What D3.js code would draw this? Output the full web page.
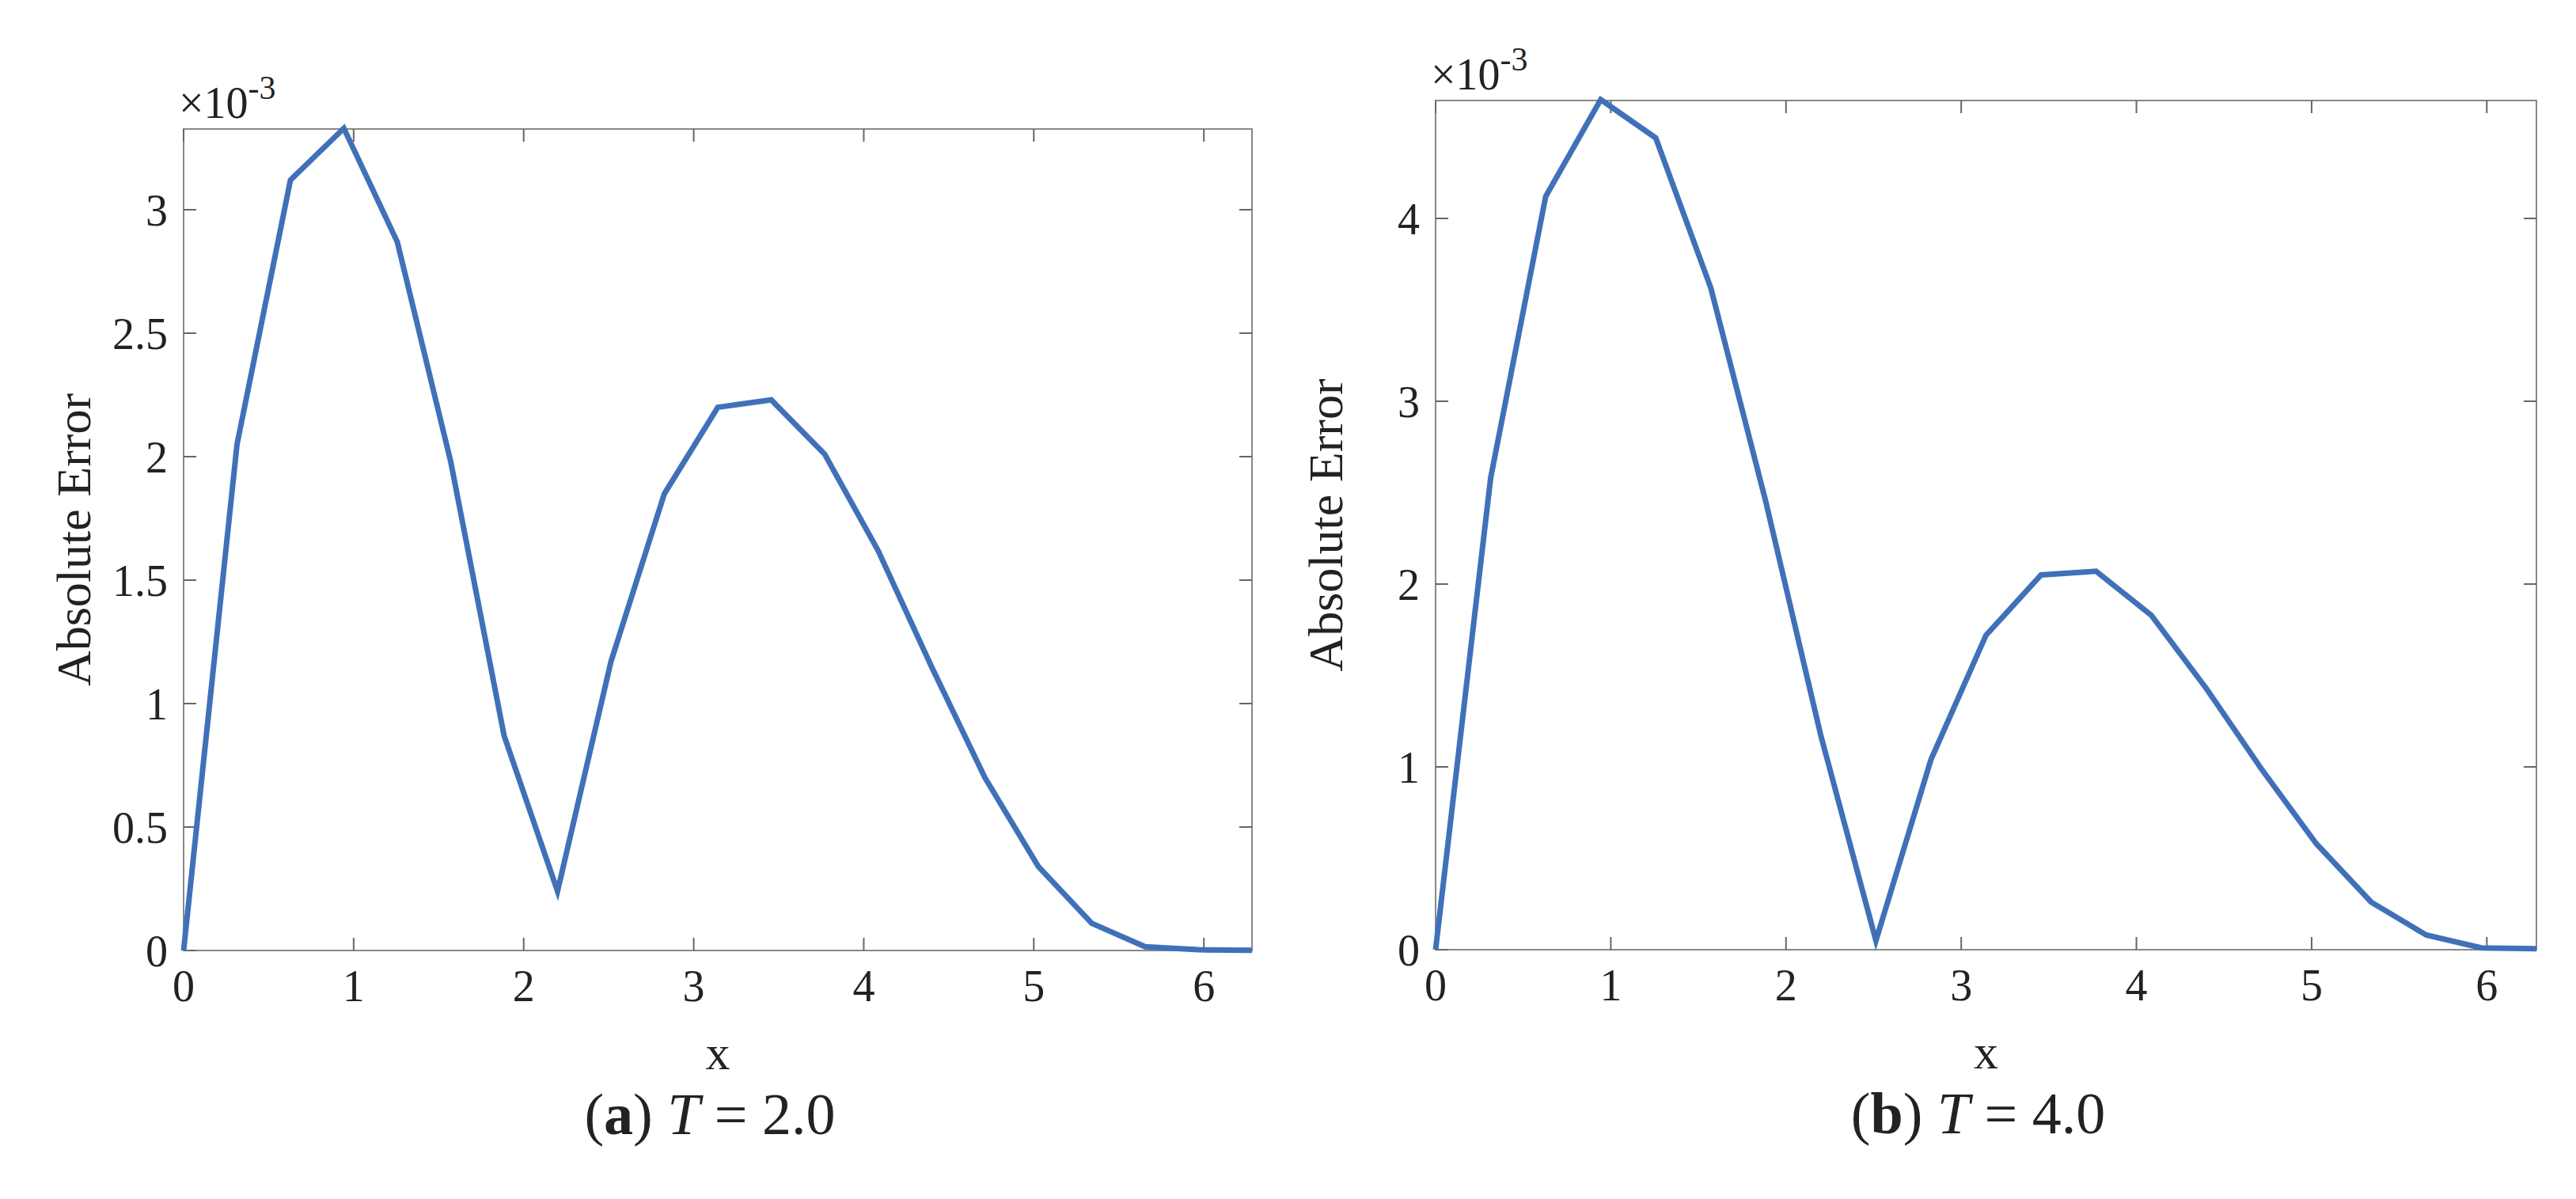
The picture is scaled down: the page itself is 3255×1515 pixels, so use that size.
<!DOCTYPE html>
<html>
<head>
<meta charset="utf-8">
<script src="https://cdn.jsdelivr.net/npm/d3@7"></script>
<style>
  body { margin: 0; background: #fff; }
  text { font-family: "Liberation Serif", "DejaVu Serif", serif; fill: #222; }
</style>
</head>
<body>
<svg id="chart" width="3255" height="1515"></svg>
<script>
// x positions: 21 samples on [0, 2π]
const xs = d3.range(21).map(k => k * Math.PI / 10);

// absolute error (×10^-3)
const errT2 = [0, 2.05, 3.12, 3.33, 2.87, 1.98, 0.87, 0.24, 1.17, 1.85, 2.20, 2.23, 2.01, 1.62, 1.15, 0.70, 0.34, 0.11, 0.015, 0.003, 0.001];
const errT4 = [0, 2.58, 4.12, 4.65, 4.44, 3.62, 2.45, 1.17, 0.05, 1.04, 1.72, 2.05, 2.07, 1.83, 1.43, 0.99, 0.58, 0.26, 0.08, 0.01, 0.005];

const xTicks = [0, 1, 2, 3, 4, 5, 6];
const yTicksA = [0, 0.5, 1, 1.5, 2, 2.5, 3];
const yTicksB = [0, 1, 2, 3, 4];

const svg = d3.select("#chart");

function panel(opt) {
  const g = svg.append("g");
  const x = d3.scaleLinear().domain([0, 2 * Math.PI]).range([opt.left, opt.right]);
  const y = d3.scaleLinear().domain([0, opt.ymax]).range([opt.bottom, opt.top]);
  const tl = 16;

  // frame
  g.append("rect")
    .attr("x", opt.left).attr("y", opt.top)
    .attr("width", opt.right - opt.left).attr("height", opt.bottom - opt.top)
    .attr("fill", "none").attr("stroke", "#888").attr("stroke-width", 2);

  // ticks (inward, mirrored)
  xTicks.forEach(t => {
    g.append("line").attr("x1", x(t)).attr("x2", x(t)).attr("y1", opt.bottom).attr("y2", opt.bottom - tl).attr("stroke", "#666").attr("stroke-width", 2);
    g.append("line").attr("x1", x(t)).attr("x2", x(t)).attr("y1", opt.top).attr("y2", opt.top + tl).attr("stroke", "#666").attr("stroke-width", 2);
    g.append("text").attr("x", x(t)).attr("y", opt.bottom + 64)
      .attr("text-anchor", "middle").attr("font-size", 56).text(t);
  });
  opt.yTicks.forEach(t => {
    g.append("line").attr("x1", opt.left).attr("x2", opt.left + tl).attr("y1", y(t)).attr("y2", y(t)).attr("stroke", "#666").attr("stroke-width", 2);
    g.append("line").attr("x1", opt.right).attr("x2", opt.right - tl).attr("y1", y(t)).attr("y2", y(t)).attr("stroke", "#666").attr("stroke-width", 2);
    g.append("text").attr("x", opt.left - 20).attr("y", y(t) + 20)
      .attr("text-anchor", "end").attr("font-size", 56).text(t);
  });

  // exponent
  const ex = g.append("text").attr("x", opt.left - 6).attr("y", opt.top - 14).attr("font-size", 56);
  ex.append("tspan").text("×10");
  ex.append("tspan").attr("dy", -24).attr("font-size", 42).text("-3");

  // line
  g.append("path")
    .datum(opt.values)
    .attr("fill", "none").attr("stroke", "#4071b8").attr("stroke-width", 7)
    .attr("stroke-linejoin", "miter")
    .attr("d", d3.line().x((d, i) => x(xs[i])).y(d => y(d)));

  // labels
  g.append("text").attr("x", (opt.left + opt.right) / 2).attr("y", opt.bottom + 150)
    .attr("text-anchor", "middle").attr("font-size", 62).text("x");
  g.append("text")
    .attr("transform", `translate(${opt.left - 118},${(opt.top + opt.bottom) / 2}) rotate(-90)`)
    .attr("text-anchor", "middle").attr("font-size", 62).text("Absolute Error");

  const cap = g.append("text").attr("x", (opt.left + opt.right) / 2 - 10).attr("y", opt.bottom + 232)
    .attr("text-anchor", "middle").attr("font-size", 74);
  cap.append("tspan").text("(");
  cap.append("tspan").attr("font-weight", "bold").text(opt.letter);
  cap.append("tspan").text(") ");
  cap.append("tspan").attr("font-style", "italic").text("T");
  cap.append("tspan").text(" = " + opt.T);
}

panel({ left: 232, right: 1582, top: 163, bottom: 1201, ymax: 3.327, yTicks: yTicksA, values: errT2, letter: "a", T: "2.0" });
panel({ left: 1814, right: 3205, top: 127, bottom: 1200, ymax: 4.645, yTicks: yTicksB, values: errT4, letter: "b", T: "4.0" });
</script>
</body>
</html>
